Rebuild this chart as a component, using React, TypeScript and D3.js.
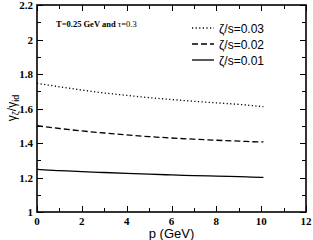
import { useEffect, useRef } from 'react';
import * as d3 from 'd3';

const momenta = [0, 0.5, 1, 2, 3, 4, 5, 6, 7, 8, 9, 10, 10.1];
const ratio003 = [1.746, 1.736, 1.726, 1.707, 1.690, 1.676, 1.663, 1.652, 1.642, 1.633, 1.624, 1.612, 1.611];
const ratio002 = [1.500, 1.492, 1.484, 1.470, 1.458, 1.447, 1.437, 1.429, 1.422, 1.416, 1.411, 1.406, 1.406];
const ratio001 = [1.247, 1.243, 1.240, 1.234, 1.229, 1.224, 1.219, 1.215, 1.211, 1.208, 1.205, 1.201, 1.201];
const xTicks = [0, 2, 4, 6, 8, 10, 12];
const yTicks = [1, 1.2, 1.4, 1.6, 1.8, 2, 2.2];
const legendLabels = ['ζ/s=0.03', 'ζ/s=0.02', 'ζ/s=0.01'];

const App = () => {
  const svgRef = useRef<SVGSVGElement>(null);

  useEffect(() => {
    const svg = d3.select(svgRef.current);
    svg.selectAll('*').remove();

    const left = 37, right = 306, top = 5, bottom = 212;
    const x = d3.scaleLinear().domain([0, 12]).range([left, right]);
    const y = d3.scaleLinear().domain([1, 2.2]).range([bottom, top]);

    const serif = '"Liberation Serif", "Times New Roman", serif';
    const sans = '"Liberation Sans", Arial, sans-serif';

    // ticks on all four sides, pointing inward
    const minorX = d3.range(0, 12.01, 1);
    const minorY = d3.range(1, 2.201, 0.1);
    const tickG = svg.append('g').attr('stroke', '#000').attr('stroke-width', 1);
    minorX.forEach((v, i) => {
      const len = i % 2 === 0 ? 6 : 4;
      const px = Math.round(x(v)) + 0.5;
      tickG.append('line').attr('x1', px).attr('x2', px).attr('y1', bottom).attr('y2', bottom - len);
      tickG.append('line').attr('x1', px).attr('x2', px).attr('y1', top).attr('y2', top + len);
    });
    minorY.forEach((v, i) => {
      const len = i % 2 === 0 ? 6 : 4;
      const py = Math.round(y(v)) + 0.5;
      tickG.append('line').attr('x1', left).attr('x2', left + len).attr('y1', py).attr('y2', py);
      tickG.append('line').attr('x1', right).attr('x2', right - len).attr('y1', py).attr('y2', py);
    });

    svg.append('rect')
      .attr('x', left).attr('y', top)
      .attr('width', right - left).attr('height', bottom - top)
      .attr('fill', 'none').attr('stroke', '#000').attr('stroke-width', 1.6);

    svg.append('g').selectAll('text').data(xTicks).enter().append('text')
      .attr('x', d => x(d)).attr('y', 225)
      .attr('text-anchor', 'middle')
      .attr('font-family', serif).attr('font-weight', 'bold').attr('font-size', 11)
      .text(d => d);

    svg.append('g').selectAll('text').data(yTicks).enter().append('text')
      .attr('x', left - 4).attr('y', d => y(d) + 4)
      .attr('text-anchor', 'end')
      .attr('font-family', serif).attr('font-weight', 'bold').attr('font-size', 11)
      .text(d => d);

    svg.append('text')
      .attr('x', (left + right) / 2).attr('y', 238)
      .attr('text-anchor', 'middle')
      .attr('font-family', sans).attr('font-size', 13)
      .text('p (GeV)');

    const yl = svg.append('text')
      .attr('transform', 'translate(16,108) rotate(-90)')
      .attr('text-anchor', 'middle')
      .attr('font-family', sans).attr('font-size', 12);
    yl.append('tspan').text('γ');
    yl.append('tspan').attr('font-size', 9).attr('dy', 3).text('ζ');
    yl.append('tspan').attr('dy', -3).text('/γ');
    yl.append('tspan').attr('font-size', 9).attr('dy', 3).text('id');

    const note = svg.append('text')
      .attr('x', 56).attr('y', 27)
      .attr('font-family', serif).attr('font-size', 8.5);
    note.append('tspan').attr('font-weight', 'bold').text('T=0.25 GeV and ');
    note.append('tspan').text('τ=0.3');

    const line = d3.line<number>()
      .x((_, i) => x(momenta[i]))
      .y(d => y(d))
      .curve(d3.curveMonotoneX);

    const series = [
      { values: ratio003, dash: '1.2,2.4' },
      { values: ratio002, dash: '6,3' },
      { values: ratio001, dash: null },
    ];

    series.forEach((s, i) => {
      svg.append('path')
        .attr('d', line(s.values))
        .attr('fill', 'none').attr('stroke', '#000').attr('stroke-width', 1.3)
        .attr('stroke-dasharray', s.dash);
      const ly = 28 + i * 16;
      svg.append('line')
        .attr('x1', 192).attr('x2', 214).attr('y1', ly).attr('y2', ly)
        .attr('stroke', '#000').attr('stroke-width', 1.3)
        .attr('stroke-dasharray', s.dash);
      svg.append('text')
        .attr('x', 219).attr('y', ly + 4.5)
        .attr('font-family', sans).attr('font-size', 12)
        .text(legendLabels[i]);
    });
  }, []);

  return (
    <svg ref={svgRef} width={313} height={240}
      style={{ position: 'absolute', left: 0, top: 0, background: '#fff' }} />
  );
};

export default App;
